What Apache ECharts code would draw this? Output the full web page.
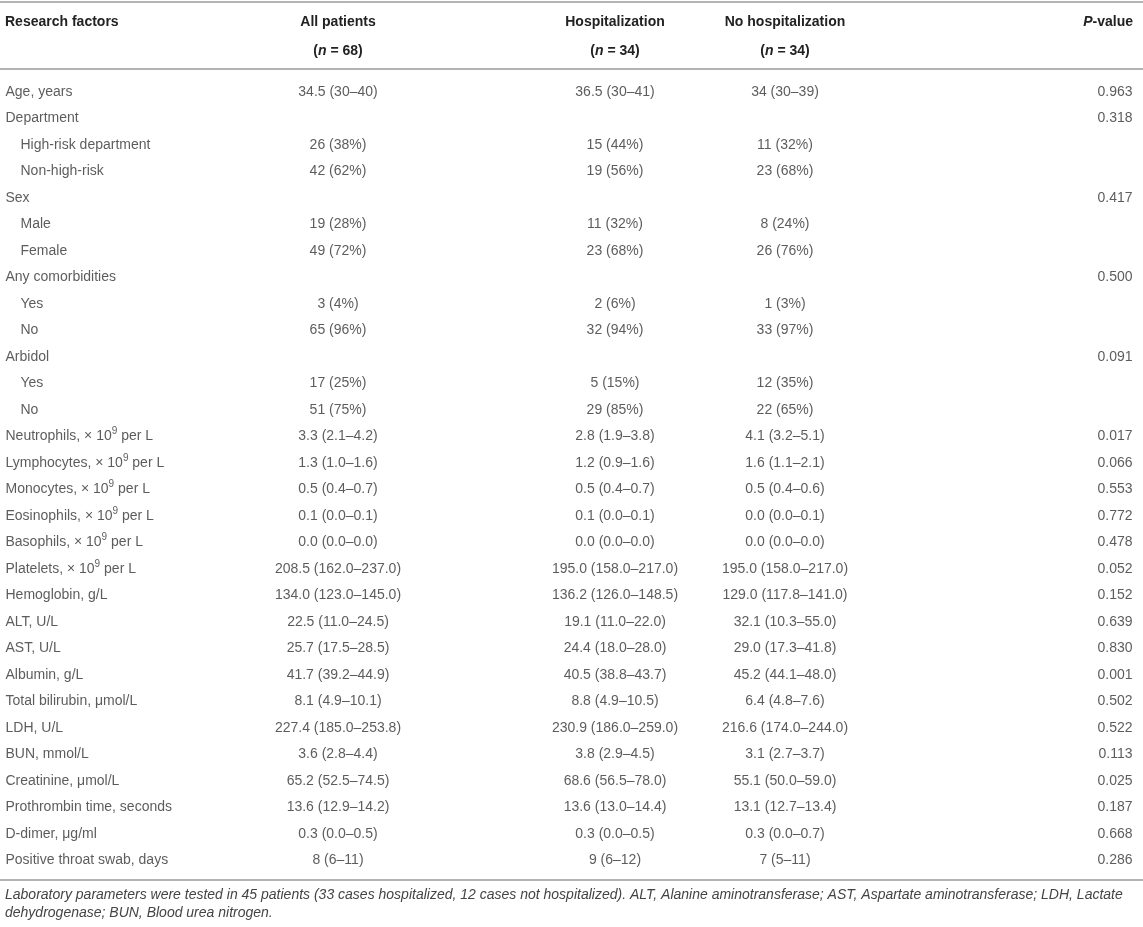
<!DOCTYPE html>
<html>
<head>
<meta charset="utf-8">
<title>Research factors</title>
<script src="https://cdn.jsdelivr.net/npm/echarts/dist/echarts.min.js"></script>
<style>
  html, body { margin: 0; padding: 0; background: #fff; }
  #main { width: 1143px; height: 927px; }
</style>
</head>
<body>
<div id="main"></div>
<script>
// table content, one entry per row
var factors = [
    'Age, years', 'Department', 'High-risk department', 'Non-high-risk',
    'Sex', 'Male', 'Female', 'Any comorbidities', 'Yes', 'No',
    'Arbidol', 'Yes', 'No',
    'Neutrophils, × 10^9 per L', 'Lymphocytes, × 10^9 per L', 'Monocytes, × 10^9 per L',
    'Eosinophils, × 10^9 per L', 'Basophils, × 10^9 per L', 'Platelets, × 10^9 per L',
    'Hemoglobin, g/L', 'ALT, U/L', 'AST, U/L', 'Albumin, g/L', 'Total bilirubin, μmol/L',
    'LDH, U/L', 'BUN, mmol/L', 'Creatinine, μmol/L', 'Prothrombin time, seconds',
    'D-dimer, μg/ml', 'Positive throat swab, days'
];
// 1 = sub item (indented)
var subItem = [0, 0, 1, 1, 0, 1, 1, 0, 1, 1, 0, 1, 1, 0, 0, 0, 0, 0, 0, 0, 0, 0, 0, 0, 0, 0, 0, 0, 0, 0];
var allPatients = [
    '34.5 (30–40)', '', '26 (38%)', '42 (62%)', '', '19 (28%)', '49 (72%)', '', '3 (4%)', '65 (96%)',
    '', '17 (25%)', '51 (75%)', '3.3 (2.1–4.2)', '1.3 (1.0–1.6)', '0.5 (0.4–0.7)', '0.1 (0.0–0.1)',
    '0.0 (0.0–0.0)', '208.5 (162.0–237.0)', '134.0 (123.0–145.0)', '22.5 (11.0–24.5)',
    '25.7 (17.5–28.5)', '41.7 (39.2–44.9)', '8.1 (4.9–10.1)', '227.4 (185.0–253.8)',
    '3.6 (2.8–4.4)', '65.2 (52.5–74.5)', '13.6 (12.9–14.2)', '0.3 (0.0–0.5)', '8 (6–11)'
];
var hospitalization = [
    '36.5 (30–41)', '', '15 (44%)', '19 (56%)', '', '11 (32%)', '23 (68%)', '', '2 (6%)', '32 (94%)',
    '', '5 (15%)', '29 (85%)', '2.8 (1.9–3.8)', '1.2 (0.9–1.6)', '0.5 (0.4–0.7)', '0.1 (0.0–0.1)',
    '0.0 (0.0–0.0)', '195.0 (158.0–217.0)', '136.2 (126.0–148.5)', '19.1 (11.0–22.0)',
    '24.4 (18.0–28.0)', '40.5 (38.8–43.7)', '8.8 (4.9–10.5)', '230.9 (186.0–259.0)',
    '3.8 (2.9–4.5)', '68.6 (56.5–78.0)', '13.6 (13.0–14.4)', '0.3 (0.0–0.5)', '9 (6–12)'
];
var noHospitalization = [
    '34 (30–39)', '', '11 (32%)', '23 (68%)', '', '8 (24%)', '26 (76%)', '', '1 (3%)', '33 (97%)',
    '', '12 (35%)', '22 (65%)', '4.1 (3.2–5.1)', '1.6 (1.1–2.1)', '0.5 (0.4–0.6)', '0.0 (0.0–0.1)',
    '0.0 (0.0–0.0)', '195.0 (158.0–217.0)', '129.0 (117.8–141.0)', '32.1 (10.3–55.0)',
    '29.0 (17.3–41.8)', '45.2 (44.1–48.0)', '6.4 (4.8–7.6)', '216.6 (174.0–244.0)',
    '3.1 (2.7–3.7)', '55.1 (50.0–59.0)', '13.1 (12.7–13.4)', '0.3 (0.0–0.7)', '7 (5–11)'
];
var pValues = [
    '0.963', '0.318', '', '', '0.417', '', '', '0.500', '', '',
    '0.091', '', '', '0.017', '0.066', '0.553', '0.772', '0.478', '0.052', '0.152',
    '0.639', '0.830', '0.001', '0.502', '0.522', '0.113', '0.025', '0.187', '0.668', '0.286'
];
var headers = ['Research factors', 'All patients', 'Hospitalization', 'No hospitalization', '{i|P}-value'];
var groupN = ['', '({i|n} = 68)', '({i|n} = 34)', '({i|n} = 34)', ''];
var footnote = 'Laboratory parameters were tested in 45 patients (33 cases hospitalized, 12 cases not hospitalized). ALT, Alanine aminotransferase; AST, Aspartate aminotransferase; LDH, Lactate\ndehydrogenase; BUN, Blood urea nitrogen.';

// layout
var W = 1143;
var FONT = '"Liberation Sans", Arial, sans-serif';
var colX = [5, 338, 615, 785, 1133];     // anchor of each column
var colAlign = ['left', 'center', 'center', 'center', 'right'];
var indent = 15;
var rowH = 26.5, firstRow = 92;
var lineColor = '#b4b4b4';

var chart = echarts.init(document.getElementById('main'));

function cellSeries(col, values) {
    var data = [];
    values.forEach(function (v, i) {
        if (v === '') return;
        var x = colX[col] + (col === 0 && subItem[i] ? indent : 0);
        data.push({ value: [x, i], text: v });
    });
    var pos = colAlign[col] === 'left' ? 'right' : (colAlign[col] === 'right' ? 'left' : 'inside');
    return {
        type: 'scatter',
        data: data,
        symbolSize: 1,
        itemStyle: { color: 'rgba(0,0,0,0)' },
        silent: true,
        label: {
            show: true,
            position: pos,
            distance: 0,
            color: '#333',
            fontSize: 14,
            fontFamily: FONT,
            formatter: function (p) {
                return p.data.text.replace(/\^(\d+)/g, function (m, d) { return '{s|' + d + '}'; });
            },
            rich: {
                s: { fontSize: 10, fontFamily: FONT, color: '#333', padding: [0, 0, 10, 0] }
            }
        }
    };
}

var headRich = { i: { fontStyle: 'italic', fontWeight: 'bold', fontSize: 14, fontFamily: FONT, fill: '#222', color: '#222' } };
var graphics = [
    { type: 'line', shape: { x1: 0, y1: 2, x2: W, y2: 2 }, style: { stroke: lineColor, lineWidth: 2 } },
    { type: 'line', shape: { x1: 0, y1: 69, x2: W, y2: 69 }, style: { stroke: lineColor, lineWidth: 2 } },
    { type: 'line', shape: { x1: 0, y1: 880, x2: W, y2: 880 }, style: { stroke: lineColor, lineWidth: 2 } },
    {
        type: 'text', left: 5, top: 886,
        style: {
            text: footnote, fill: '#444', fontSize: 14, fontStyle: 'italic',
            fontFamily: FONT, lineHeight: 18
        }
    }
];
headers.forEach(function (h, c) {
    graphics.push({
        type: 'text', x: colX[c], y: 22,
        style: {
            text: h, fill: '#222', fontSize: 14, fontWeight: 'bold', fontFamily: FONT,
            align: colAlign[c], verticalAlign: 'middle', rich: headRich
        }
    });
    if (groupN[c]) {
        graphics.push({
            type: 'text', x: colX[c], y: 51,
            style: {
                text: groupN[c], fill: '#222', fontSize: 14, fontWeight: 'bold', fontFamily: FONT,
                align: colAlign[c], verticalAlign: 'middle', rich: headRich
            }
        });
    }
});

var option = {
    animation: false,
    grid: { left: 0, right: 0, top: firstRow - rowH / 2, height: rowH * factors.length },
    xAxis: { type: 'value', min: 0, max: W, show: false },
    yAxis: {
        type: 'category', inverse: true, show: false,
        data: factors.map(function (f, i) { return String(i); })
    },
    series: [
        cellSeries(0, factors),
        cellSeries(1, allPatients),
        cellSeries(2, hospitalization),
        cellSeries(3, noHospitalization),
        cellSeries(4, pValues)
    ],
    graphic: graphics
};
chart.setOption(option);
</script>
</body>
</html>
